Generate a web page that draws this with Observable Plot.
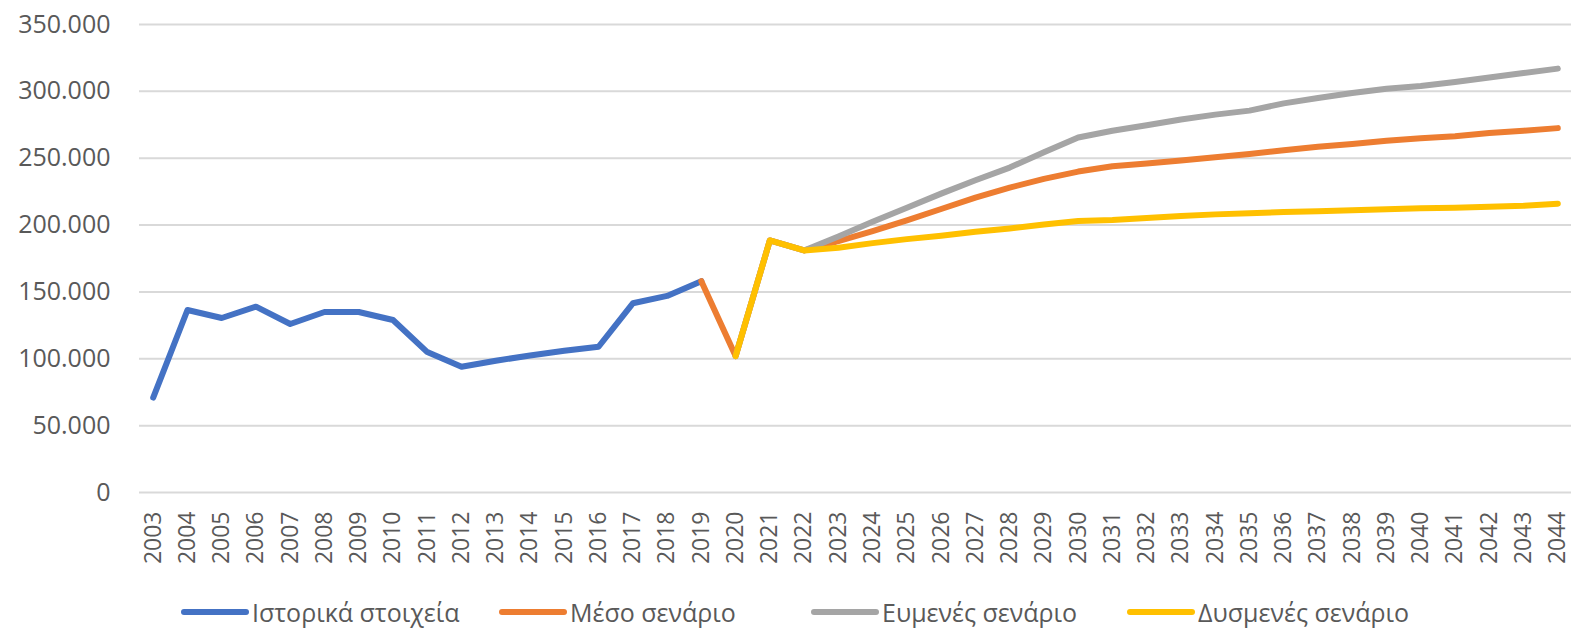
<!DOCTYPE html>
<html>
<head>
<meta charset="utf-8">
<script src="https://cdn.jsdelivr.net/npm/d3@7"></script>
<script src="https://cdn.jsdelivr.net/npm/@observablehq/plot@0.6"></script>
<style>
  html, body { margin: 0; padding: 0; background: #fff; overflow: hidden; }
  #wrap { position: relative; width: 1571px; height: 635px; }
  #legend { position: absolute; left: 0; top: 580px; width: 1571px; height: 55px; font-family: "Open Sans", sans-serif; font-size: 25px; color: #595959; }
  .item { position: absolute; top: 15px; display: flex; align-items: center; white-space: nowrap; }
  .sw { display: inline-block; height: 6px; border-radius: 3px; margin-right: 3px; }
</style>
</head>
<body>
<div id="wrap">
  <div id="chart"></div>
  <div id="legend"></div>
</div>
<script>
const years = ["2003","2004","2005","2006","2007","2008","2009","2010","2011","2012","2013","2014","2015","2016","2017","2018","2019","2020","2021","2022","2023","2024","2025","2026","2027","2028","2029","2030","2031","2032","2033","2034","2035","2036","2037","2038","2039","2040","2041","2042","2043","2044"];

const yTicks = [0, 50000, 100000, 150000, 200000, 250000, 300000, 350000];

const seriesNames = ["Ιστορικά στοιχεία", "Μέσο σενάριο", "Ευμενές σενάριο", "Δυσμενές σενάριο"];
const seriesColors = ["#4472C4", "#ED7D31", "#A5A5A5", "#FFC000"];

// Ιστορικά στοιχεία, 2003–2019
const historicalYears = years.slice(0, 17);
const historical = [71000, 136500, 130500, 139000, 126000, 135000, 135000, 129000, 105000, 94000, 98500, 102500, 106000, 109000, 141500, 147000, 158000];

// Μέσο σενάριο, 2019–2044
const mediumYears = years.slice(16);
const medium = [158000, 102000, 188500, 181000, 188000, 195500, 203500, 212000, 220500, 228000, 234500, 240000, 244000, 246000, 248300, 250700, 253200, 256000, 258500, 260700, 263000, 265000, 266500, 268800, 270600, 272500];

// Ευμενές σενάριο, 2020–2044
const favorableYears = years.slice(17);
const favorable = [102000, 188500, 181000, 191500, 202500, 213000, 223500, 233500, 243000, 254500, 265500, 270500, 274600, 278900, 282600, 285600, 291000, 295000, 298800, 302000, 304000, 307000, 310400, 313700, 317000];

// Δυσμενές σενάριο, 2020–2044
const unfavorableYears = years.slice(17);
const unfavorable = [102000, 188500, 181000, 183000, 186500, 189500, 192000, 195000, 197500, 200500, 203000, 203800, 205300, 206700, 208000, 208800, 209700, 210300, 211000, 211800, 212500, 213000, 213700, 214400, 216000];

const toRows = (ys, vs, s) => ys.map((y, i) => ({year: y, value: vs[i], series: s}));
const data = [
  ...toRows(historicalYears, historical, seriesNames[0]),
  ...toRows(mediumYears, medium, seriesNames[1]),
  ...toRows(favorableYears, favorable, seriesNames[2]),
  ...toRows(unfavorableYears, unfavorable, seriesNames[3])
];

const fmt = d => d === 0 ? "0" : d3.format(",")(d).replace(/,/g, ".");

const chart = Plot.plot({
  width: 1571,
  height: 580,
  marginLeft: 139,
  marginRight: 0,
  marginTop: 24,
  marginBottom: 88,
  style: {fontFamily: "Open Sans, sans-serif", fontSize: "23px", color: "#595959", background: "#fff"},
  x: {type: "point", domain: years, padding: 0.4, round: false, label: null},
  y: {domain: [0, 350000], label: null},
  color: {domain: seriesNames, range: seriesColors},
  marks: [
    Plot.ruleY(yTicks, {stroke: "#d9d9d9", strokeWidth: 2}),
    Plot.axisY({ticks: yTicks, tickFormat: fmt, tickSize: 0, tickPadding: 29, label: null, fontSize: 25}),
    Plot.axisX({tickRotate: -90, tickSize: 0, tickPadding: 19, label: null, fontSize: 23}),
    ...seriesNames.map(s => Plot.line(data.filter(d => d.series === s), {
      x: "year", y: "value", stroke: "series", strokeWidth: 6,
      strokeLinecap: "round", strokeLinejoin: "round"
    }))
  ]
});
document.getElementById("chart").appendChild(chart);

const legendLefts = [181, 499, 811, 1127];
const legend = document.getElementById("legend");
seriesNames.forEach((s, i) => {
  const it = document.createElement("div");
  it.className = "item";
  it.style.left = legendLefts[i] + "px";
  const sw = document.createElement("span");
  sw.className = "sw";
  sw.style.background = seriesColors[i];
  sw.style.width = "68px";
  const tx = document.createElement("span");
  tx.textContent = s;
  it.appendChild(sw);
  it.appendChild(tx);
  legend.appendChild(it);
});
</script>
</body>
</html>
